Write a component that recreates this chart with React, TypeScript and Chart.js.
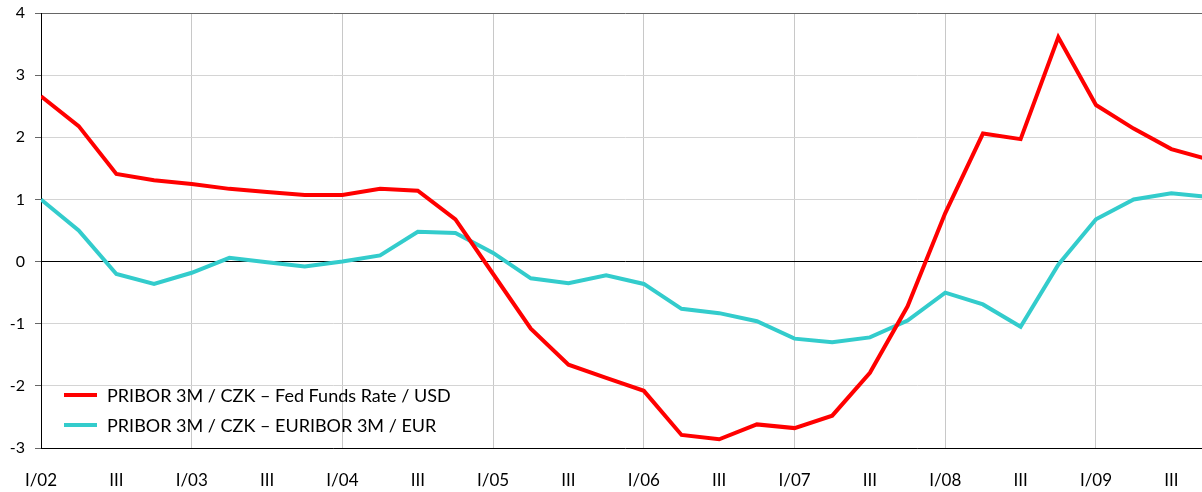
import React, { useEffect, useRef } from "react";
import { Chart, registerables } from "chart.js";

Chart.register(...registerables);

// Quarter index 0 = I/02 ... 31 = IV/09
const quarters: number[] = Array.from({ length: 32 }, (_, i) => i);
const years: string[] = ["02", "03", "04", "05", "06", "07", "08", "09"];

const fedSpread: number[] = [
  2.66, 2.18, 1.41, 1.31, 1.25, 1.17, 1.12, 1.07, 1.07, 1.17, 1.14, 0.68,
  -0.2, -1.08, -1.66, -1.87, -2.08, -2.79, -2.86, -2.62, -2.68, -2.48, -1.79, -0.72,
  0.78, 2.06, 1.97, 3.61, 2.52, 2.14, 1.81, 1.64,
];
const euriborSpread: number[] = [
  1.0, 0.5, -0.2, -0.36, -0.18, 0.06, -0.01, -0.08, 0.0, 0.1, 0.48, 0.46,
  0.14, -0.27, -0.35, -0.22, -0.36, -0.76, -0.83, -0.96, -1.24, -1.3, -1.22, -0.95,
  -0.5, -0.69, -1.05, -0.05, 0.68, 1.0, 1.1, 1.04,
];
const seriesNames: string[] = [
  "PRIBOR 3M / CZK – Fed Funds Rate / USD",
  "PRIBOR 3M / CZK – EURIBOR 3M / EUR",
];
const seriesColors: string[] = ["#ff0000", "#33cccc"];

const FONT = "Lato, 'Open Sans', sans-serif";

const insideLegend = {
  id: "insideLegend",
  afterDraw(chart: any) {
    const ctx = chart.ctx;
    const left = chart.chartArea.left;
    ctx.save();
    seriesNames.forEach((name, i) => {
      const y = 395 + i * 30;
      ctx.strokeStyle = seriesColors[i];
      ctx.lineWidth = 4;
      ctx.beginPath();
      ctx.moveTo(left + 23, y);
      ctx.lineTo(left + 56, y);
      ctx.stroke();
      ctx.fillStyle = "#000";
      ctx.font = `18px ${FONT}`;
      ctx.textBaseline = "middle";
      ctx.textAlign = "left";
      ctx.fillText(name, left + 66, y + 1);
    });
    ctx.restore();
  },
};

export default function App() {
  const ref = useRef<HTMLCanvasElement | null>(null);
  useEffect(() => {
    if (!ref.current) return;
    const chart = new Chart(ref.current, {
      type: "line",
      data: {
        datasets: [
          {
            label: seriesNames[0],
            data: quarters.map((q, i) => ({ x: q, y: fedSpread[i] })),
            borderColor: seriesColors[0],
            borderWidth: 4,
            pointRadius: 0,
            tension: 0,
            clip: 0,
          },
          {
            label: seriesNames[1],
            data: quarters.map((q, i) => ({ x: q, y: euriborSpread[i] })),
            borderColor: seriesColors[1],
            borderWidth: 4,
            pointRadius: 0,
            tension: 0,
            clip: 0,
          },
        ],
      },
      options: {
        animation: false,
        responsive: false,
        maintainAspectRatio: false,
        layout: { padding: { top: 13, right: 1, bottom: 0, left: 0 } },
        plugins: { legend: { display: false }, tooltip: { enabled: false } },
        scales: {
          x: {
            type: "linear",
            min: 0,
            max: 31,
            afterBuildTicks: (scale: any) => {
              const t = [];
              for (let v = 0; v <= 30; v += 2) t.push({ value: v });
              scale.ticks = t;
            },
            afterFit: (scale: any) => {
              scale.height = 44;
              scale.paddingLeft = 0;
              scale.paddingRight = 0;
            },
            grid: {
              drawTicks: false,
              color: (c: any) =>
                c.tick && c.tick.value % 4 === 0 && c.tick.value !== 0 ? "#c8c8c8" : "rgba(0,0,0,0)",
              lineWidth: 1,
            },
            border: { color: "#000", width: 1 },
            ticks: {
              padding: 22,
              maxRotation: 0,
              autoSkip: false,
              color: "#000",
              font: { family: FONT, size: 17 },
              callback: (v: any) => {
                const n = Number(v);
                if (n % 4 === 0) return "I/" + years[n / 4];
                return "III";
              },
            },
          },
          y: {
            min: -3,
            max: 4,
            afterFit: (scale: any) => {
              scale.width = 41;
              scale.paddingTop = 0;
              scale.paddingBottom = 0;
            },
            grid: {
              color: (c: any) => {
                const v = c.tick ? c.tick.value : null;
                if (v === 0) return "#000";
                if (v === 4) return "#666";
                return "#d4d4d4";
              },
              tickColor: "#666",
              tickLength: 6,
              lineWidth: 1,
            },
            border: { color: "#000", width: 1 },
            ticks: {
              stepSize: 1,
              padding: 10,
              color: "#000",
              font: { family: FONT, size: 16 },
            },
          },
        },
      },
      plugins: [insideLegend],
    });
    return () => chart.destroy();
  }, []);
  return (
    <div
      style={{
        position: "absolute",
        left: 0,
        top: 0,
        width: 1202,
        height: 492,
        overflow: "hidden",
        background: "#fff",
      }}
    >
      <canvas ref={ref} width={1210} height={492} style={{ display: "block" }} />
    </div>
  );
}
